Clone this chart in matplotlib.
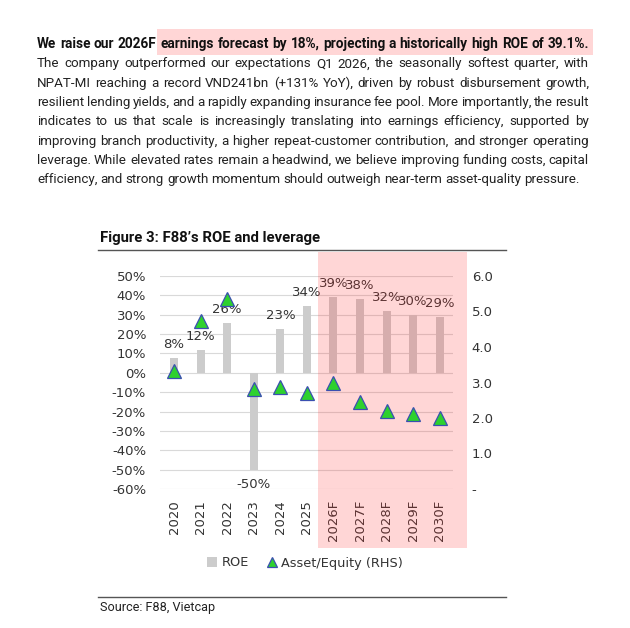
import matplotlib
matplotlib.use('Agg')
import matplotlib.pyplot as plt
from matplotlib.patches import Rectangle
from matplotlib.lines import Line2D

W, H = 630, 628

# 数据
years = ['2020', '2021', '2022', '2023', '2024', '2025',
         '2026F', '2027F', '2028F', '2029F', '2030F']
roe = [7.7, 11.9, 25.8, -50.0, 22.8, 34.3, 39.1, 38.2, 31.8, 30.0, 28.6]
asset_equity = [3.32, 4.73, 5.35, 2.82, 2.87, 2.71, 2.98, 2.45, 2.20, 2.11, 2.00]
roe_ticks = list(range(-60, 51, 10))
ae_ticks = [0, 1, 2, 3, 4, 5, 6]
ae_tick_labels = ['-', '1.0', '2.0', '3.0', '4.0', '5.0', '6.0']

headline_plain = 'We raise our 2026F'
headline_marked = 'earnings forecast by 18%, projecting a historically high ROE of 39.1%.'
body_lines = [
    'The company outperformed our expectations Q1 2026, the seasonally softest quarter, with',
    'NPAT-MI reaching a record VND241bn (+131% YoY), driven by robust disbursement growth,',
    'resilient lending yields, and a rapidly expanding insurance fee pool. More importantly, the result',
    'indicates to us that scale is increasingly translating into earnings efficiency, supported by',
    'improving branch productivity, a higher repeat-customer contribution, and stronger operating',
    'leverage. While elevated rates remain a headwind, we believe improving funding costs, capital',
    'efficiency, and strong growth momentum should outweigh near-term asset-quality pressure.',
]

TEXT_FONT = 'Roboto'
CHART_FONT = 'DejaVu Sans'
PINK = '#FFD6D6'
BODY_SIZE = 9.6
HEAD_SIZE = 9.8


def fx(px):
    return px / W


def fy(py):
    return 1 - py / H


fig = plt.figure(figsize=(W / 100, H / 100), dpi=100)
fig.patch.set_facecolor('white')
renderer = fig.canvas.get_renderer()


def text_width(s, **kw):
    t = fig.text(0, 0, s, **kw)
    w = t.get_window_extent(renderer).width
    t.remove()
    return w


def place_line(words, x0, x1, base_y, justify=True, min_gap=2.5, **kw):
    """两端对齐：先调词距，不够时再压缩字距。返回每个词的 (左, 右) 像素位置。"""
    widths = [text_width(w, **kw) for w in words]
    n = len(words) - 1
    space = text_width('a a', **kw) - text_width('aa', **kw)
    if not justify or n == 0:
        gap, track = space * 0.9, 0.0
    else:
        gap = (x1 - x0 - sum(widths)) / n
        track = 0.0
        if gap < min_gap:
            gap = min_gap
            inner = sum(len(w) - 1 for w in words)
            track = (x1 - x0 - sum(widths) - n * gap) / inner
    pos = []
    x = x0
    for w, wd in zip(words, widths):
        if track == 0.0:
            fig.text(fx(x), fy(base_y), w, ha='left', va='baseline', **kw)
            end = x + wd
        else:
            for k, ch in enumerate(w):
                off = text_width(w[:k + 1], **kw) - text_width(ch, **kw)
                fig.text(fx(x + off + track * k), fy(base_y), ch,
                         ha='left', va='baseline', **kw)
            end = x + wd + track * (len(w) - 1)
        pos.append((x, end))
        x = end + gap
    return pos


# ---- 正文段落（两端对齐） ----
X0, X1 = 37, 589
LINE_H = 19.35
head_words = (headline_plain + ' ' + headline_marked).split()
pos = place_line(head_words, X0, X1, 48, family=TEXT_FONT, fontweight='bold',
                 fontsize=HEAD_SIZE, color='#111111', zorder=3)
hl_x0 = pos[len(headline_plain.split())][0] - 3
fig.add_artist(Rectangle((fx(hl_x0), fy(55)), (X1 + 4 - hl_x0) / W, 26 / H,
                         transform=fig.transFigure, facecolor=PINK,
                         edgecolor='none', zorder=1))

for i, line in enumerate(body_lines):
    last = i == len(body_lines) - 1
    place_line(line.split(), X0, X1, 48 + LINE_H * (i + 1), justify=not last,
               family=TEXT_FONT, fontsize=BODY_SIZE, color='#222222', zorder=3)

# ---- 图标题与分隔线 ----
fig.text(fx(100), fy(238), 'Figure 3: F88\u2019s ROE and leverage', family=TEXT_FONT,
         fontweight='bold', fontsize=10.7, color='#111111', va='center', ha='left')
for yline in (250, 597):
    fig.add_artist(Line2D([fx(98), fx(506)], [fy(yline), fy(yline)],
                          transform=fig.transFigure, color='#555555', lw=1.0))
fig.text(fx(100), fy(608), 'Source: F88, Vietcap', family=TEXT_FONT,
         fontsize=9.1, color='#222222', va='center', ha='left')

# ---- 图表 ----
ax = fig.add_axes([fx(160), fy(489), (453 - 160) / W, (489 - 276) / H])
ax.set_zorder(0)
x = list(range(len(years)))
bars = ax.bar(x, roe, width=0.3, color='#CCCCCC', zorder=2, label='ROE')
for xi, v in zip(x, roe):
    if v >= 0:
        ax.annotate(f'{v:.0f}%', (xi, v), xytext=(0, 5), textcoords='offset points',
                    ha='center', va='bottom', fontsize=9.5, color='#333333',
                    family=CHART_FONT, zorder=3)
    else:
        ax.annotate(f'{v:.0f}%', (xi, v), xytext=(0, -6), textcoords='offset points',
                    ha='center', va='top', fontsize=9.5, color='#333333',
                    family=CHART_FONT, zorder=3)

ax.set_xlim(-0.53, 10.5)
ax.set_ylim(-60, 50)
ax.set_yticks(roe_ticks)
ax.set_yticklabels([f'{t}%' for t in roe_ticks], family=CHART_FONT)
ax.set_xticks(x)
ax.set_xticklabels(years, rotation=90, family=CHART_FONT)
ax.tick_params(axis='y', length=0, pad=10, labelsize=9.5, labelcolor='#333333')
ax.tick_params(axis='x', length=0, pad=8, labelsize=9.5, labelcolor='#333333')
ax.grid(axis='y', color='#D9D9D9', lw=0.8, zorder=0)
ax.set_axisbelow(True)
for s in ax.spines.values():
    s.set_visible(False)

ax2 = ax.twinx()
ax2.set_zorder(2)
ax2.patch.set_visible(False)
tri, = ax2.plot(x, asset_equity, linestyle='none', marker='^', markersize=10,
                markerfacecolor='#2ED12E', markeredgecolor='#3A4FB0',
                markeredgewidth=0.9, label='Asset/Equity (RHS)')
ax2.set_ylim(0, 6)
ax2.set_yticks(ae_ticks)
ax2.set_yticklabels(ae_tick_labels, family=CHART_FONT)
ax2.tick_params(axis='y', length=0, pad=13.5, labelsize=9.5, labelcolor='#333333')
for s in ax2.spines.values():
    s.set_visible(False)

# 预测期高亮（叠加在柱子之上，三角之下）
fig.add_artist(Rectangle((fx(318), fy(548)), (467 - 318) / W, (548 - 252) / H,
                         transform=fig.transFigure, facecolor=(1, 0.2, 0.2),
                         alpha=0.2, edgecolor='none', zorder=1))

fig.legend([bars, tri], ['ROE', 'Asset/Equity (RHS)'], loc='center',
           bbox_to_anchor=(fx(305), fy(563)), ncol=2, frameon=False,
           handlelength=0.8, handleheight=0.8, handletextpad=0.3,
           columnspacing=1.4, markerscale=0.7,
           prop={'family': CHART_FONT, 'size': 9.3}, labelcolor='#333333')

fig.savefig('out.png', dpi=100, facecolor='white')
